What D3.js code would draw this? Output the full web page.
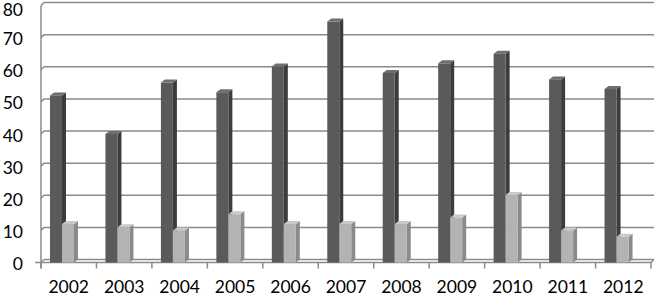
<!doctype html>
<html>
  <head>
    <script src="https://cdn.jsdelivr.net/npm/d3@7/dist/d3.min.js"></script>
    <style>
      body { margin: 0; background: #fff; }
    </style>
  </head>
  <body>
    <script>
    // data
    var years = ["2002", "2003", "2004", "2005", "2006", "2007", "2008", "2009", "2010", "2011", "2012"];
    var seriesA = [52, 40, 56, 53, 61, 75, 59, 62, 65, 57, 54];
    var seriesB = [12, 11, 10, 15, 12, 12, 12, 14, 21, 10, 8];
    var yTicks = [0, 10, 20, 30, 40, 50, 60, 70, 80];

    var width = 655;
    var height = 296;

    // 3d offsets (back wall is shifted right/up from the front)
    var dx = 3, dy = 3;
    var barDepth = 4, barLift = 3;

    var svg = d3.select("body")
              .append("svg")
              .attr("width", width)
              .attr("height", height);

    var xScale = d3.scaleBand()
                  .domain(years)
                  .range([41, 651])
                  .padding(0);

    // back wall scale
    var yScale = d3.scaleLinear()
                  .domain([0, 80])
                  .range([259.5, 2.5]);

    var left = 41, right = 651;
    var grid = "#8a8a8a";

//gridlines on the back wall + slant on the side wall
    yTicks.forEach(function(t) {
      var y = yScale(t);
      svg.append("line")
        .attr("x1", left + dx).attr("x2", right + dx)
        .attr("y1", y).attr("y2", y)
        .attr("stroke", grid).attr("stroke-width", 1.5);
      svg.append("line")
        .attr("x1", left).attr("x2", left + dx)
        .attr("y1", y + dy).attr("y2", y)
        .attr("stroke", grid).attr("stroke-width", 1.5);
    });

    // side wall front edge
    svg.append("line")
      .attr("x1", left).attr("x2", left)
      .attr("y1", yScale(80) + dy).attr("y2", yScale(0) + dy + 6)
      .attr("stroke", grid).attr("stroke-width", 1.5);

    // floor front edge
    svg.append("line")
      .attr("x1", left - 6).attr("x2", right)
      .attr("y1", yScale(0) + dy).attr("y2", yScale(0) + dy)
      .attr("stroke", grid).attr("stroke-width", 1.5);
    svg.append("line")
      .attr("x1", right).attr("x2", right + dx)
      .attr("y1", yScale(0) + dy).attr("y2", yScale(0))
      .attr("stroke", grid).attr("stroke-width", 1.5);

    // x ticks
    var tickPos = years.map(function(d) { return xScale(d); }).concat([right]);
    svg.selectAll(".xtick")
      .data(tickPos)
      .enter()
        .append("line")
        .attr("x1", function(d) { return d; })
        .attr("x2", function(d) { return d; })
        .attr("y1", yScale(0) + dy)
        .attr("y2", yScale(0) + dy + 6)
        .attr("stroke", grid).attr("stroke-width", 1.5);

//3d bars
    function drawBar(x, w, v, cFront, cSide, cTop) {
      var yTop = yScale(v) + barLift;
      var yBot = yScale(0) + dy;
      svg.append("polygon")
        .attr("points", [[x + w, yTop], [x + w + barDepth, yTop - barLift], [x + w + barDepth, yBot - barLift], [x + w, yBot]].join(" "))
        .attr("fill", cSide);
      svg.append("polygon")
        .attr("points", [[x, yTop], [x + barDepth, yTop - barLift], [x + w + barDepth, yTop - barLift], [x + w, yTop]].join(" "))
        .attr("fill", cTop);
      svg.append("rect")
        .attr("x", x).attr("y", yTop)
        .attr("width", w).attr("height", yBot - yTop)
        .attr("fill", cFront);
    }

    var barW = 12;
    years.forEach(function(d, i) {
      var x0 = xScale(d);
      drawBar(x0 + 9, barW, seriesA[i], "#5a5a5a", "#3c3c3c", "#6e6e6e");
      drawBar(x0 + 9 + barW, barW, seriesB[i], "#b3b3b3", "#8a8a8a", "#c9c9c9");
    });

//axis labels
    svg.selectAll(".ylab")
      .data(yTicks)
      .enter()
        .append("text")
        .attr("x", 23)
        .attr("y", function(d) { return Math.max(yScale(d) + 4, 9); })
        .attr("text-anchor", "end")
        .attr("dominant-baseline", "central")
        .attr("font-family", "Lato, sans-serif")
        .style("font-size", "17.5px")
        .attr("fill", "#000")
        .text(function(d) { return d; });

    svg.selectAll(".xlab")
      .data(years)
      .enter()
        .append("text")
        .attr("x", function(d) { return xScale(d) + xScale.bandwidth() / 2; })
        .attr("y", 293)
        .attr("text-anchor", "middle")
        .attr("font-family", "Lato, sans-serif")
        .style("font-size", "17.5px")
        .attr("fill", "#000")
        .text(function(d) { return d; });
    </script>
  </body>
</html>
